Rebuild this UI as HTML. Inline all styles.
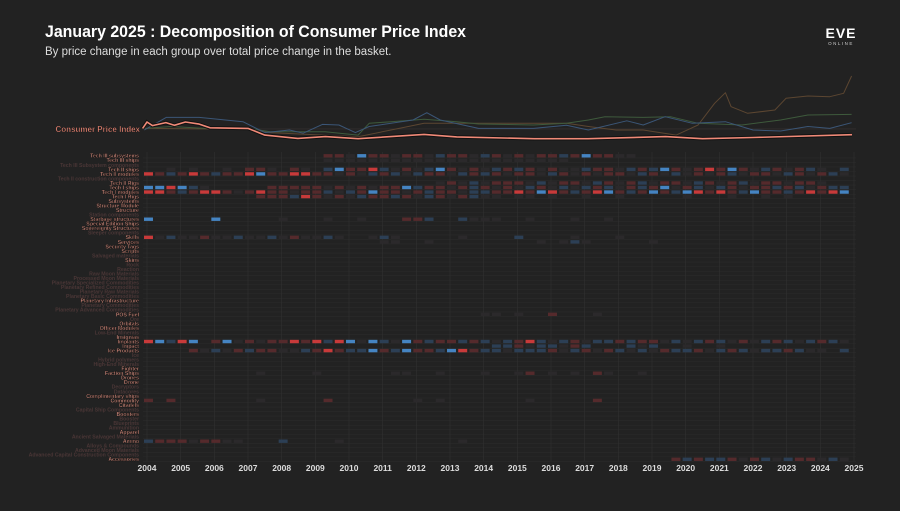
<!DOCTYPE html>
<html><head><meta charset="utf-8">
<style>
body{margin:0;background:#222;width:900px;height:506px;overflow:hidden;font-family:"Liberation Sans",sans-serif;}
svg text{font-family:"Liberation Sans",sans-serif;}
</style></head>
<body>
<svg id="c" width="900" height="506" xmlns="http://www.w3.org/2000/svg">
<rect width="900" height="506" fill="#222"/>
<text x="45" y="37" fill="#fff" font-size="17" font-weight="bold" textLength="421" lengthAdjust="spacingAndGlyphs">January 2025 : Decomposition of Consumer Price Index</text>
<text x="45" y="55" fill="#ddd" font-size="11.5">By price change in each group over total price change in the basket.</text>
<g>
<text x="841" y="38" fill="#fff" font-size="14" font-weight="bold" text-anchor="middle" letter-spacing="1">EVE</text>
<text x="841" y="45" fill="#ccc" font-size="4.5" text-anchor="middle" letter-spacing="1.5">ONLINE</text>
</g>
<g id="grid"></g>
<g id="cells"></g>
<g id="lines"></g>
<g id="labels"></g>
<g id="xaxis"></g>
</svg>
<script>
// ---- line chart data ----
const cpiYears=[2003.87,2004.0,2004.16,2004.56,2004.81,2005.14,2005.55,2005.87,2007.0,2007.5,2008.48,2009.3,2010.27,2012.23,2013.2,2015.5,2017.1,2019.4,2020.5,2022.0,2024.94];
const cpiValues=[102,123,111,121,112,123,116,104,102,80,69,75,68,82,74,68,68,75,68,72,81];
const blueYears=[2003.92,2004.57,2005.55,2006.85,2007.5,2008.23,2008.64,2009.21,2009.7,2010.19,2010.6,2011.9,2012.31,2012.71,2013.85,2015.48,2016.46,2017.11,2018.25,2018.74,2019.39,2020.2,2021.18,2022.0,2022.82,2023.63,2024.28,2024.93];
const blueValues=[96.6,138,138,124,88,96.6,86,115,113,88,108,129.5,153.7,129.5,102,102,112,96.6,127,113,140.5,118.6,124,96.6,93.3,108,102,120.8];
const greenYears=[2003.92,2004.73,2005.71,2007.01,2007.66,2009.29,2010.27,2010.6,2011.25,2012.23,2013.2,2013.85,2015.48,2016.46,2017.11,2017.6,2018.74,2019.55,2020.37,2021.67,2022.82,2023.63,2024.93];
const greenValues=[102,108,102,102,91,91,80,118.6,124,131.7,124,116.4,113,118.6,129.5,140.5,138,140.5,118.6,113,129.5,146,148];
const brownYears=[2003.92,2007.01,2007.66,2010.27,2012.23,2013.2,2015.48,2016.46,2017.11,2017.93,2018.74,2019.72,2020.37,2020.86,2021.18,2021.35,2021.84,2022.65,2022.98,2023.63,2024.28,2024.69,2024.93];
const brownValues=[102,98.8,88,74.7,118.6,118.6,118.6,118.6,108,96.6,96.6,80,113,184.4,219.5,173.4,151.5,162.4,200.8,208.5,206.3,217.3,274.3];
// ---- heatmap data ----
const rowLabels=["Tech III subsystems","Tech III ships","Tech III Subsystem components","Tech II ships","Tech II modules","Tech II construction components","Tech II Rigs","Tech I ships","Tech I modules","Tech I Rigs","Subsystems","Structure Module","Structure","Station components","Starbase structures","Special Edition Ships","Sovereignty Structures","Sleeper components","Skills","Services","Security Tags","Scripts","Salvaged materials","Skins","Rock","Reaction","Raw Moon Materials","Processed Moon Materials","Planetary Specialized Commodities","Planetary Refined Commodities","Planetary Raw Materials","Planetary Basic Commodities","Planetary Infrastructure","Planetary Commodities","Planetary Advanced Commodities","POS Fuel","Ore","Orbitals","Officer Modules","Low-End Minerals","Insignias","Implants","Impact","Ice Products","Ice","Hybrid polymers","High-End Minerals","Fighter","Faction Ships","Drones","Drone","Decryptors","Datacores","Complimentary ships","Commodity","Citadels","Capital Ship Components","Boosters","Booster","Blueprints","Ammunition","Apparel","Ancient Salvaged Materials","Ammo","Alloys & Compounds","Advanced Moon Materials","Advanced Capital Construction Components","Accessories"];
const rowBright=[1,1,0,1,1,0,1,1,1,1,1,1,1,0,1,1,1,0,1,1,1,1,0,1,0,0,0,0,0,0,0,0,1,0,0,1,0,1,1,0,1,1,1,1,0,0,0,1,1,1,1,0,0,1,1,1,0,1,0,0,0,1,0,1,0,0,0,1];
// one char per 4-month block from 2004: R/r red, B/b blue, d faint, . none
const rowPatterns={
0:"................rrdBrrdrrdbrrdbrdrdrrbrBrrdd",
1:"................dddddddddddddddddddddd",
3:"..d.d..d.rrd.rd.bBrrRbdrdbBrdrdbrbrdrddbrrdbrbBrdrRrBrdbrdrbd.b",
4:"RrbrRrbrrRBrrRRrrdrdbrbdbrrdbrbrdrrdbrdrdrrdbrdbdrdrbdrrdbrdrbd",
6:"..........................drdbdrrrdbdrrdbrdrbdrrdbrdrbdrrdrrd..",
7:"BBRBbd.....rrrrrdrdrdrrBbrrdrbrdrdbrdbdbrbdrbrBdrbdbrdrrbrbdrbb",
8:"RRrbrRRrdrRrrdrrbdbrBrrdrbrrdbbrrRrBRrbrRBrbrBrbBRrRrbBrrbrRrRB",
9:"..........rrrbRrdrdbrrbrdbrdrbdd.dd.d..d..d.....d...d..d.d",
14:"B.....B.....d...d..d...rrb..bddd..d...d..d",
18:"Rdbddrddbddbdrddbd..dbd.....d....b....d...d",
19:".....................dd..d.........d.dbd.....d",
35:"..............................dd.d..r...d",
41:"RBbRB.rBdrdrrRrRbRBdBbdBrbrrbrbdbrRbdbrdbbrbrrdbdbrbdrdbrbdbrbd",
42:"...............................bbrdbbdrb...bdb..d..d",
43:"....rdbdrbrrddbrRrbbBrbBrrbBRrbbdbbbrdbrdrbdbdrbbrdbrbdbbrbdd.b",
48:"..........d....d......dd..d...d..dr.d.d.rd..d",
54:"r.r.......d.....r.......d.d.......d.....r",
63:"brrrdrrdd...b....d..........d....",
67:"...............................................rbrbbrdrbdbrrdbdr"
};
const yearTicks=[2004,2005,2006,2007,2008,2009,2010,2011,2012,2013,2014,2015,2016,2017,2018,2019,2020,2021,2022,2023,2024,2025];

const NS="http://www.w3.org/2000/svg";
const X0=147,X1=854;
function xScale(y){return X0+(y-2004)*(X1-X0)/21;}
function yLine(v){return 60+(327-v)/3.291;}
function rowY(i){return 155.7+i*4.53;}
function mk(tag,attrs,parent){const e=document.createElementNS(NS,tag);for(const k in attrs)e.setAttribute(k,attrs[k]);parent.appendChild(e);return e;}

const grid=document.getElementById('grid');
rowLabels.forEach((l,i)=>{
  const ln=mk('line',{x1:143,x2:856,y1:rowY(i)+2.2,y2:rowY(i)+2.2,stroke:'#2b2b2b','stroke-width':0.6},grid);
  
  
});
yearTicks.forEach(y=>{
  const ln=mk('line',{x1:xScale(y),x2:xScale(y),y1:152,y2:461,stroke:'#2f2f2f','stroke-width':0.7},grid);
  
  
});

const colors={R:'#c83a3a',r:'#552a2c',B:'#4584c2',b:'#2c3f55',d:'#2b292b'};
const cells=document.getElementById('cells');
const cw=(X1-X0)/21/3;
for(const k in rowPatterns){
  const p=rowPatterns[k];
  for(let j=0;j<Math.min(p.length,63);j++){
    const ch=p[j];if(ch==='.')continue;
    const r=mk('rect',{x:xScale(2004+j/3)-3,y:rowY(+k)-1.6,width:cw*0.8,height:3.4,fill:colors[ch]},cells);
    
    
  }
}

const lines=document.getElementById('lines');
function drawLine(ys,vs,color,w,name,outline){
  const d=ys.map((y,i)=>(i?'L':'M')+xScale(y).toFixed(1)+','+yLine(vs[i]).toFixed(1)).join(' ');
  if(outline){const o=mk('path',{d:d,fill:'none',stroke:'#111','stroke-width':w+2},lines);
    
    }
  const p=mk('path',{d:d,fill:'none',stroke:color,'stroke-width':w,'stroke-linejoin':'round'},lines);
  
  
}
const base=mk('line',{x1:143,x2:856,y1:yLine(100),y2:yLine(100),stroke:'#3a3535','stroke-width':0.6},lines);


drawLine(brownYears,brownValues,'#5c4631',1,'brown-series-line',false);
drawLine(greenYears,greenValues,'#3e5a3c',1,'green-series-line',false);
drawLine(blueYears,blueValues,'#3b5677',1,'blue-series-line',false);
drawLine(cpiYears,cpiValues,'#f08a78',1.6,'cpi-line',true);
const cl=mk('text',{x:140,y:132,fill:'#f08a78','font-size':8,'font-weight':'bold','text-anchor':'end',stroke:'#111','stroke-width':0.3},lines);
cl.textContent='Consumer Price Index';



const labels=document.getElementById('labels');
rowLabels.forEach((l,i)=>{
  const t=mk('text',{x:139,y:rowY(i)+2,'font-size':5.2,'font-weight':'bold','text-anchor':'end',fill:rowBright[i]?'#f0a090':'#4a3636'},labels);
  if(rowBright[i]){t.setAttribute('stroke','#000');t.setAttribute('stroke-width','0.25');}
  t.textContent=l;
  
  
});

const xa=document.getElementById('xaxis');
yearTicks.forEach(y=>{
  const t=mk('text',{x:xScale(y),y:471,'font-size':8.5,'font-weight':'bold','text-anchor':'middle',fill:'#ddd'},xa);
  t.textContent=y;
  
  
});
</script>
</body></html>
